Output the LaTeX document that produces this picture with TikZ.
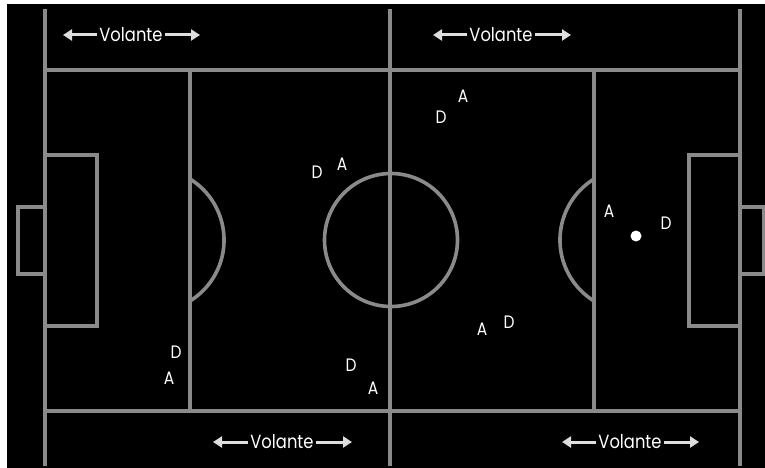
\documentclass[tikz,border=0pt]{standalone}
\usepackage{fontspec}
\setmainfont{Poppins}
\newfontfamily\volfont[FakeStretch=0.86]{Poppins}
\usetikzlibrary{arrows.meta}
\definecolor{linea}{RGB}{138,138,138}
\definecolor{flecha}{RGB}{222,222,222}
\tikzset{
  campo/.style={draw=linea, line width=3.6pt},
  jugador/.style={text=white, font=\volfont\fontsize{18}{18}\selectfont, inner sep=0pt},
  volante/.style={text=white, font=\volfont\fontsize{19}{19}\selectfont, inner sep=2pt},
  flechavol/.style={draw=flecha, line width=3pt, -{Triangle[length=9pt,width=11pt]}},
}

\begin{document}
\begin{tikzpicture}[x=1pt, y=-1pt]
    \useasboundingbox (0,0) rectangle (765,468);
    % Fondo negro
    \fill[black] (7,4) rectangle (765,468);
    % Bandas y lineas del campo
    \draw[campo] (45,9) -- (45,466);
    \draw[campo] (740,9) -- (740,466);
    \draw[campo] (390,9) -- (390,466);
    \draw[campo] (45,70) -- (740,70);
    \draw[campo] (45,411) -- (740,411);
    \draw[campo] (190,70) -- (190,411);
    \draw[campo] (594,70) -- (594,411);
    % Areas y porterias
    \draw[campo] (45,155) rectangle (97,326);
    \draw[campo] (45,207) -- (18,207) -- (18,274) -- (45,274);
    \draw[campo] (740,155) rectangle (689,326);
    \draw[campo] (740,207) -- (764,207) -- (764,274) -- (740,274);
    % Semicirculos y circulo central
    \draw[campo] (190,179) arc[start angle=-58.3, end angle=58.3, radius=71.7];
    \draw[campo] (594,179) arc[start angle=238.3, end angle=121.7, radius=71.7];
    \draw[campo] (391,240) circle[radius=66.5];
    % Balon
    \fill[white] (636,236) circle[radius=5.5] coordinate (balon);
    % Volantes
    \node[volante] (vol1) at (131,35) {Volante};
    \coordinate (vol1l) at (63,35);
    \coordinate (vol1r) at (200,35);
    \node[volante] (vol2) at (501,35) {Volante};
    \coordinate (vol2l) at (433,35);
    \coordinate (vol2r) at (571,35);
    \node[volante] (vol3) at (282,442) {Volante};
    \coordinate (vol3l) at (213,442);
    \coordinate (vol3r) at (352,442);
    \node[volante] (vol4) at (630,442) {Volante};
    \coordinate (vol4l) at (562,442);
    \coordinate (vol4r) at (699,442);
    \foreach \v in {vol1, vol2, vol3, vol4} {
        \draw[flechavol] (\v.west) -- (\v l);
        \draw[flechavol] (\v.east) -- (\v r);
    }
    % Jugadores
    \node[jugador] (a1) at (463,96) {A};
    \node[jugador] (d1) at (441,117) {D};
    \node[jugador] (d2) at (317,172) {D};
    \node[jugador] (a2) at (342,164) {A};
    \node[jugador] (a3) at (609,211) {A};
    \node[jugador] (d3) at (666,223) {D};
    \node[jugador] (a4) at (482,329) {A};
    \node[jugador] (d4) at (509,322) {D};
    \node[jugador] (d5) at (176,352) {D};
    \node[jugador] (a5) at (169,378) {A};
    \node[jugador] (d6) at (351,365) {D};
    \node[jugador] (a6) at (373,388) {A};
\end{tikzpicture}
\end{document}
